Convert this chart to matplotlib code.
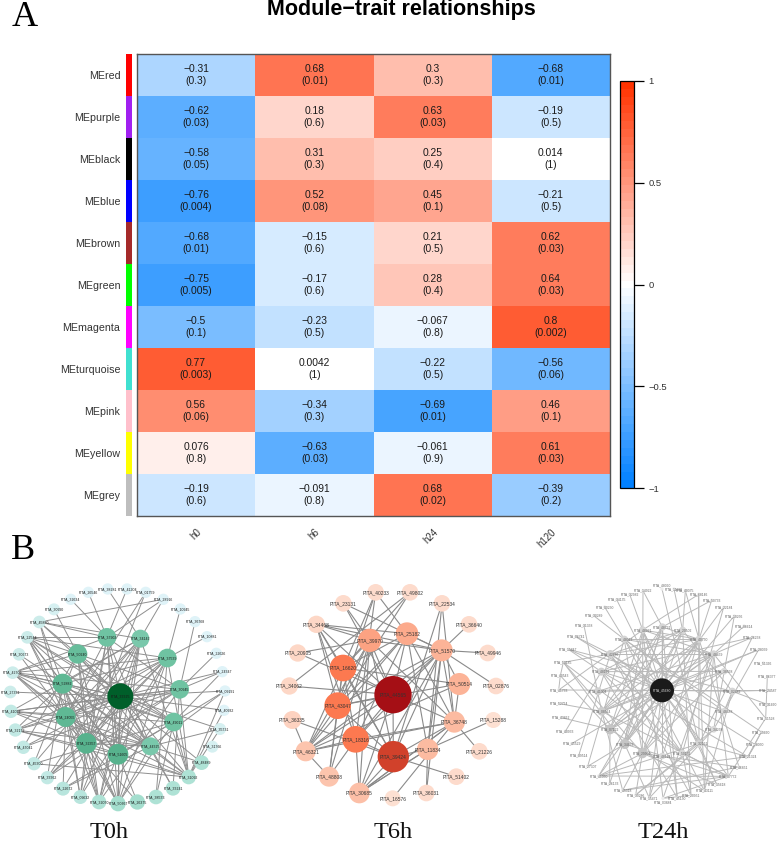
import matplotlib
matplotlib.use('Agg')
import matplotlib.pyplot as plt
import numpy as np
from matplotlib.colors import LinearSegmentedColormap

W, H = 779, 842

modules = ['MEred', 'MEpurple', 'MEblack', 'MEblue', 'MEbrown', 'MEgreen',
           'MEmagenta', 'MEturquoise', 'MEpink', 'MEyellow', 'MEgrey']
module_colors = ['#ff0000', '#a020f0', '#000000', '#0000ff', '#a52a2a', '#00ff00',
                 '#ff00ff', '#40e0d0', '#ffc0cb', '#ffff00', '#bebebe']
traits = ['h0', 'h6', 'h24', 'h120']

corr = [[-0.31, 0.68, 0.3, -0.68],
        [-0.62, 0.18, 0.63, -0.19],
        [-0.58, 0.31, 0.25, 0.014],
        [-0.76, 0.52, 0.45, -0.21],
        [-0.68, -0.15, 0.21, 0.62],
        [-0.75, -0.17, 0.28, 0.64],
        [-0.5, -0.23, -0.067, 0.8],
        [0.77, 0.0042, -0.22, -0.56],
        [0.56, -0.34, -0.69, 0.46],
        [0.076, -0.63, -0.061, 0.61],
        [-0.19, -0.091, 0.68, -0.39]]
pvals = [['0.3', '0.01', '0.3', '0.01'],
         ['0.03', '0.6', '0.03', '0.5'],
         ['0.05', '0.3', '0.4', '1'],
         ['0.004', '0.08', '0.1', '0.5'],
         ['0.01', '0.6', '0.5', '0.03'],
         ['0.005', '0.6', '0.4', '0.03'],
         ['0.1', '0.5', '0.8', '0.002'],
         ['0.003', '1', '0.5', '0.06'],
         ['0.06', '0.3', '0.01', '0.1'],
         ['0.8', '0.03', '0.9', '0.03'],
         ['0.6', '0.8', '0.02', '0.2']]

# networks: id, x, y, radius (3x pixels of each panel)
t0_ids = ['26546', '38281', '41204', '01759', '32634', '28916', '30990', '10945', '45880', '36768',
          '22544', '10881', '30673', '22626', '42709', '24347', '27331', '09191', '41022', '40932',
          '32172', '35731', '47041', '31766', '45300', '48489', '33362', '31092', '22672', '33241',
          '09632', '38533', '32070', '26375', '50367',
          '37902', '34142', '50240', '37539', '52882', '30945', '33325', '24055', '49011', '32357',
          '44325', '51605']
t0_x = [265, 323, 381, 437, 212, 490, 162, 541, 118, 585, 82, 621, 57, 649, 38, 667, 31, 675, 33, 672,
        46, 660, 70, 637, 102, 605, 142, 566, 189, 519, 241, 468, 297, 412, 354,
        321, 421, 233, 502, 188, 539, 361, 197, 521, 259, 451, 354]
t0_y = [187, 177, 177, 187, 208, 208, 238, 237, 276, 275, 322, 320, 373, 370, 428, 425, 486, 483, 544, 541,
        600, 597, 652, 650, 701, 698, 743, 741, 776, 775, 801, 801, 816, 816, 821,
        322, 326, 372, 384, 461, 478, 499, 561, 576, 640, 649, 673]
t0_r = [17, 17, 17, 17, 17, 17, 18, 17, 19, 17, 19, 17, 19, 17, 19, 17, 19, 17, 20, 17,
        20, 18, 20, 18, 20, 22, 20, 22, 21, 22, 21, 22, 22, 23, 23,
        28, 27, 29, 28, 30, 28, 39, 30, 28, 31, 27, 31]
t0_edges = {
    '33325': ['22544', '45880', '42709', '27331', '41022', '32172', '47041', '24347', '09191', '40932', '35731',
              '31092', '33241', '50367', '32070', '09632', '37902', '34142', '50240', '37539', '52882', '30945',
              '24055', '49011', '32357', '44325', '51605', '48489', '22672'],
    '24055': ['45880', '22544', '30673', '42709', '41022', '32172', '22672', '09632', '32070', '50367', '34142',
              '37902', '37539', '30945', '44325', '31092', '32357', '51605'],
    '32357': ['22544', '42709', '41022', '09632', '32070', '50367', '37902', '34142', '37539', '52882', '50240',
              '30945', '31092', '33362', '44325', '26375'],
    '51605': ['32172', '42709', '50367', '32070', '26375', '37902', '52882', '34142', '37539', '49011', '22544'],
    '52882': ['45880', '22544', '30673', '42709', '32172', '33362', '09632', '32070', '50367', '31092', '37539',
              '49011', '44325', '34142'],
    '50240': ['30990', '45880', '22544', '42709', '47041', '45300', '50367', '32070', '44325', '49011', '30945'],
    '37902': ['32634', '26546', '45880', '22544', '42709', '09632', '50367', '44325', '41204', '30945'],
    '34142': ['38281', '28916', '45880', '45300', '33362', '32070', '50367', '31092', '41022'],
    '37539': ['10945', '22544', '42709', '32172', '09632', '50367', '31092', '38533', '10881', '33362'],
    '30945': ['36768', '22626', '42709', '41022', '32070', '33241', '31092', '47041', '33362', '24347'],
    '49011': ['22544', '42709', '41022', '50367', '31092', '38533', '09191', '24347', '45300', '22672'],
    '44325': ['22544', '42709', '41022', '32172', '50367', '31092', '33241', '22672', '35731', '09191', '48489'],
    '31092': ['09191', '40932', '35731', '45300', '32172'],
    '28916': ['37902', '45880'],
    '01759': ['32357', '24055'],
}

t6_ids = ['40233', '49802', '23131', '22534', '34468', '36640', '20905', '49946', '34062', '02876',
          '36335', '15288', '46321', '21226', '48808', '51402', '30685', '36031', '16576',
          '39970', '25182', '51570', '16620', '50514', '44565', '43047', '36748', '18316', '39424', '11834']
t6_x = [347, 450, 250, 546, 169, 627, 113, 683, 88, 708, 97, 700, 137, 658, 207, 589, 298, 499, 398,
        329, 441, 545, 249, 598, 399, 233, 583, 287, 400, 503]
t6_y = [187, 187, 220, 220, 283, 283, 369, 369, 468, 468, 570, 570, 664, 664, 740, 740, 789, 789, 805,
        331, 311, 361, 414, 462, 494, 527, 576, 628, 680, 658]
t6_r = [25, 25, 25, 25, 26, 25, 26, 25, 26, 25, 27, 24, 30, 25, 30, 25, 31, 25, 24,
        35, 34, 33, 40, 33, 56, 40, 32, 40, 47, 32]
t6_edges = {
    '44565': ['34062', '34468', '20905', '43047', '18316', '39424', '51570', '36748', '39970', '25182', '16620',
              '30685', '46321', '23131'],
    '39424': ['36335', '18316', '30685', '16620', '43047', '36748', '51570', '51402', '11834', '39970', '34468'],
    '43047': ['40233', '49802', '46321', '48808', '25182', '51570', '39970', '50514', '16620'],
    '18316': ['40233', '46321', '48808', '30685', '51570', '36748', '34468', '16620', '25182'],
    '16620': ['40233', '46321', '48808', '39970', '25182', '50514', '49802'],
    '51570': ['34468', '23131', '36640', '49946', '02876', '36748', '50514', '30685', '25182', '39970', '46321'],
    '25182': ['34468', '40233', '11834', '46321', '36748'],
    '39970': ['23131', '20905', '34468', '46321', '48808', '36748'],
    '36748': ['21226', '30685', '16576', '50514', '30685', '46321'],
    '11834': ['15288', '30685', '22534', '36031', '51570'],
    '30685': ['39970', '11834'],
    '46321': ['36335', '48808', '50514'],
    '34468': ['16620', '43047'],
    '22534': ['36748', '39424'],
    '36031': ['51570'],
    '34062': ['49802'],
}

t24_ids = ['14922', '32982', '34135', '00230', '30289', '31338', '06741', '15847', '50185', '40543',
           '41733', '52754', '43862', '40933', '45529', '09514', '27307', '41050', '26133', '45318',
           '30286', '15471', '03884', '45130', '20951', '43111', '15618', '07772', '46851', '21324',
           '28050', '19660', '51528', '31660', '24587', '06377', '51366', '28039', '26238', '86614',
           '10256', '22184', '50733', '68146', '40075', '11660', '48090',
           '48921', '48731', '20502', '40750', '48017', '48459', '42686', '48191', '38558', '41004',
           '45680', '02482', '08564', '48488', '07122', '34258', '34633', '32151', '29904', '48124', '50152']
t24_x = [372, 332, 293, 257, 224, 195, 170, 148, 133, 124, 119, 121, 127, 139, 158, 179, 206, 239, 272, 311,
         350, 391, 432, 475, 516, 556, 593, 628, 660, 687, 709, 727, 740, 747, 748, 745, 733, 719, 700, 675,
         646, 614, 578, 539, 499, 465, 429,
         371, 430, 491, 540, 316, 584, 274, 247, 615, 237, 429, 640, 248, 615, 273, 584, 317, 540, 370, 430, 490]
t24_y = [182, 193, 209, 231, 257, 287, 320, 358, 397, 437, 480, 521, 563, 604, 641, 677, 709, 738, 761, 781,
         795, 804, 805, 804, 796, 782, 763, 739, 711, 680, 644, 606, 565, 524, 481, 440, 399, 359, 322, 288,
         258, 232, 211, 193, 182, 177, 177,
         300, 291, 301, 328, 328, 372, 372, 425, 424, 484, 481, 484, 544, 544, 598, 598, 642, 641, 670, 678, 669]
t24_r = [5] * 47 + [11, 11, 11, 11, 11, 11, 12, 12, 10, 12, 36, 11, 13, 10, 15, 10, 15, 11, 15, 10, 10]
t24_edges = {
    '45680': ['34135', '06741', '15847', '41733', '45529', '41050', '15471', '24587', '28039', '22184', '48731',
              '48921', '20502', '40750', '48459', '48017', '42686', '48191', '41004', '02482', '08564', '07122',
              '34633', '29904', '32151', '34258', '48488', '38558', '07772', '45130'],
    '29904': ['14922', '50185', '41050', '30286', '15618', '46851', '48017', '40750', '48459', '38558', '45318'],
    '34633': ['50185', '27307', '15471', '07772', '48731', '48921', '20502', '40750', '10256'],
    '07122': ['40543', '43862', '26133', '43111', '48921', '48731', '40750', '48459', '38558'],
    '08564': ['31338', '52754', '45318', '07772', '20502', '48731', '40750', '48459', '28039'],
    '48191': ['15847', '40933', '45130', '21324', '20502', '38558', '50152', '26238'],
    '42686': ['06741', '50185', '09514', '20951', '20502', '40750', '48459', '28050'],
    '48017': ['00230', '30289', '27307', '43111', '40750', '48459', '48488', '19660'],
    '48921': ['32982', '41733', '03884', '15618', '40750', '48459', '32151', '68146'],
    '48731': ['14922', '26133', '45130', '50733', '40750', '48124'],
    '40750': ['50733', '68146', '40075', '15471', '43111', '46851'],
    '48459': ['41004', '03884', '07772', '86614', '26238', '51528', '43111'],
    '20502': ['40075', '11660', '41050', '20951', '02482'],
    '32151': ['48090', '68146', '30286', '15618', '41050', '21324', '26238'],
    '50152': ['22184', '20951', '07772', '42686', '50185'],
    '34258': ['10256', '15471', '28039', '30286'],
    '02482': ['24587', '43111', '31660', '15847', '48488'],
    '51528': ['06377', '07772'],
    '21324': ['19660', '28050', '19660', '41050'],
    '40543': ['41733', '50185'],
    '03884': ['07772', '20951'],
    '45318': ['07772', '46851'],
    '41050': ['07772'],
}
# labels at the top and bottom of the T24h ring are too tight for one line
label_shift = {'48090': -11, '03884': 11}

panels = [
    ('T0h', 0, t0_ids, t0_x, t0_y, t0_r, t0_edges, '#8f8f8f', 0.7, 2.5, '#1a1a1a', 327),
    ('T6h', 260, t6_ids, t6_x, t6_y, t6_r, t6_edges, '#8a8a8a', 0.8, 3.5, '#333333', 398),
    ('T24h', 519, t24_ids, t24_x, t24_y, t24_r, t24_edges, '#b9b9b9', 0.7, 2.4, '#666666', 432),
]


def fig_axes(fig, x0, y0, x1, y1):
    # pixel box from the top left corner of the picture
    return fig.add_axes([x0 / W, 1 - y1 / H, (x1 - x0) / W, (y1 - y0) / H])


def node_color(name, r, rmin, rmax):
    t = (r - rmin) / (rmax - rmin)
    if name == 'T0h':
        cmap = LinearSegmentedColormap.from_list('g', ['#dff3f8', '#a9e0d2', '#6fc3a2', '#43a47c', '#005f2a'])
        return cmap(t)
    if name == 'T6h':
        cmap = LinearSegmentedColormap.from_list('r', ['#fde0d2', '#fcbba1', '#fc7a50', '#cb3a26', '#a50f15'])
        return cmap(t)
    cmap = LinearSegmentedColormap.from_list('k', ['#ececec', '#c4c4c4', '#8a8a8a', '#1a1a1a'], N=256)
    return cmap(t)


plt.rcParams['font.family'] = ['Liberation Sans', 'DejaVu Sans']
fig = plt.figure(figsize=(W / 100, H / 100), dpi=100)

# odd level count so that values near 0 land on pure white
cmap = LinearSegmentedColormap.from_list('bwr_wgcna', ['#0080ff', '#ffffff', '#ff3300'], N=51)

ax = fig_axes(fig, 137, 54, 610, 516)
data = np.array(corr)
mesh = ax.pcolormesh(data, cmap=cmap, vmin=-1, vmax=1)
ax.set_ylim(len(modules), 0)
for i in range(len(modules)):
    for j in range(len(traits)):
        v = corr[i][j]
        txt = f'{v:g}'.replace('-', '\u2212')
        ax.text(j + 0.5, i + 0.5, f'{txt}\n({pvals[i][j]})', ha='center', va='center',
                fontsize=7.4, color='#1a1a1a', linespacing=1.2)
ax.set_xticks(np.arange(len(traits)) + 0.5)
ax.set_xticklabels(traits, rotation=45, ha='right', rotation_mode='anchor', fontsize=7, color='#333333')
ax.set_yticks([])
ax.tick_params(axis='x', length=0, pad=8)
for s in ax.spines.values():
    s.set_color('#555555')
    s.set_linewidth(1)

# module colour strip
strip = fig_axes(fig, 126, 54, 132, 516)
strip.set_xlim(0, 1)
strip.set_ylim(len(modules), 0)
strip.bar(0.5, 1, width=1, bottom=np.arange(len(modules)), color=module_colors)
strip.set_xticks([])
strip.set_yticks(np.arange(len(modules)) + 0.5)
strip.set_yticklabels(modules, fontsize=7.7, color='#333333')
strip.tick_params(axis='y', length=0, pad=4)
for s in strip.spines.values():
    s.set_visible(False)

cax = fig_axes(fig, 620, 81, 634, 488)
cb = fig.colorbar(mesh, cax=cax, ticks=[-1, -0.5, 0, 0.5, 1])
cb.ax.set_yticklabels(['\u22121', '\u22120.5', '0', '0.5', '1'], fontsize=6.8, color='#333333')
cb.ax.tick_params(length=7.5, width=0.9, pad=3)
cb.outline.set_linewidth(0.9)

fig.text(401 / W, 1 - 10 / H, 'Module\u2212trait relationships', ha='center', va='center',
         fontsize=15.5, fontweight='bold', color='black')
fig.text(12 / W, 1 - 26 / H, 'A', family='Liberation Serif', fontsize=26, ha='left', va='baseline')
fig.text(11 / W, 1 - 559 / H, 'B', family='Liberation Serif', fontsize=26, ha='left', va='baseline')

for name, x0, ids, xs, ys, rs, edges, ecol, elw, fs, tcol, tx in panels:
    net = fig_axes(fig, x0, 530, x0 + 260, 842)
    net.set_xlim(0, 780)
    net.set_ylim(936, 0)
    net.axis('off')
    net.patch.set_alpha(0)
    pos = {n: (a, b) for n, a, b in zip(ids, xs, ys)}
    for hub, others in edges.items():
        for other in others:
            net.plot([pos[hub][0], pos[other][0]], [pos[hub][1], pos[other][1]],
                     color=ecol, lw=elw, zorder=1, solid_capstyle='round')
    for n, a, b, r in zip(ids, xs, ys, rs):
        circ = plt.Circle((a, b), r, color=node_color(name, r, min(rs), max(rs)), lw=0, zorder=2)
        net.add_patch(circ)
        col = '#d8d8d8' if n == '45680' else tcol
        shift = label_shift.get(n, 0) if name == 'T24h' else 0
        net.text(a, b + shift, f'PITA_{n}', ha='center', va='center', fontsize=fs, color=col, zorder=3)
    net.text(tx, 908, name, family='Liberation Serif', fontsize=17.5, ha='center', va='center',
             color='#111111')

fig.savefig('out.png', dpi=100)
